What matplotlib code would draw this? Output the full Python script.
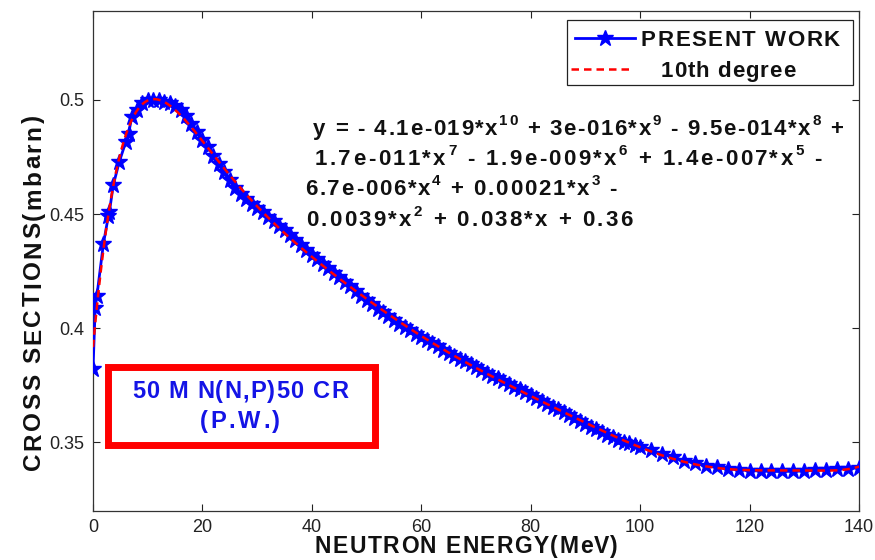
import numpy as np
import matplotlib
matplotlib.use("Agg")
import matplotlib.pyplot as plt
from matplotlib.patches import Rectangle
from matplotlib.lines import Line2D
from matplotlib.font_manager import FontProperties, findfont
from matplotlib import ft2font
from matplotlib.transforms import IdentityTransform

plt.rcParams['font.family'] = ['Liberation Sans', 'DejaVu Sans']

# ---- data: present work (neutron energy in MeV, cross section in mbarn) ----
energy_early = [0.0, 0.4, 0.7, 1.9, 2.8, 3.0, 3.7, 4.8, 6.0, 6.5, 7.1]
xs_early = [0.382, 0.409, 0.414, 0.437, 0.449, 0.451, 0.4627, 0.4729, 0.4817, 0.4853, 0.4927]

energy_mid = list(range(8, 101))
xs_mid = [0.4955, 0.4985, 0.4998, 0.5000, 0.4998, 0.4993, 0.4985, 0.4975, 0.4955,
          0.4928, 0.4895, 0.4860, 0.4826, 0.4792, 0.4756, 0.4720, 0.4684, 0.4650,
          0.4615, 0.4586, 0.4565, 0.4545, 0.4526, 0.4507, 0.4488, 0.4470, 0.4449,
          0.4428, 0.4407, 0.4385, 0.4363, 0.4342, 0.4322, 0.4302, 0.4282, 0.4262,
          0.4243, 0.4224, 0.4204, 0.4184, 0.4164, 0.4143, 0.4122, 0.4104, 0.4086,
          0.4069, 0.4052, 0.4036, 0.4020, 0.4005, 0.3990, 0.3976, 0.3962, 0.3948,
          0.3934, 0.3920, 0.3906, 0.3893, 0.3880, 0.3867, 0.3854, 0.3841, 0.3829,
          0.3817, 0.3804, 0.3792, 0.3780, 0.3768, 0.3756, 0.3744, 0.3732, 0.3720,
          0.3707, 0.3694, 0.3681, 0.3668, 0.3656, 0.3644, 0.3632, 0.3620, 0.3607,
          0.3594, 0.3582, 0.3569, 0.3557, 0.3545, 0.3533, 0.3522, 0.3512, 0.3503,
          0.3495, 0.3488, 0.3481]

energy_late = [102, 104, 106, 108, 110, 112, 114, 116, 118, 120,
               122, 124, 126, 128, 130, 132, 134, 136, 138, 140]
xs_late = [0.3465, 0.3448, 0.3434, 0.3420, 0.3408, 0.3398, 0.3390, 0.3384, 0.3380, 0.3376,
           0.3374, 0.3372, 0.3372, 0.3373, 0.3374, 0.3377, 0.3380, 0.3383, 0.3385, 0.3388]

energy = np.array(energy_early + energy_mid + energy_late, dtype=float)
xsec = np.array(xs_early + xs_mid + xs_late)

fit_degree = 10
series_labels = ["PRESENT WORK", "10th degree"]
# equation lines: list of (text, is_superscript) segments
equation_lines = [
    [("y = - 4.1e-019*x", 0), ("10", 1), (" + 3e-016*x", 0), ("9", 1),
     (" - 9.5e-014*x", 0), ("8", 1), (" +", 0)],
    [("1.7e-011*x", 0), ("7", 1), (" - 1.9e-009*x", 0), ("6", 1),
     (" + 1.4e-007*x", 0), ("5", 1), (" -", 0)],
    [("6.7e-006*x", 0), ("4", 1), (" + 0.00021*x", 0), ("3", 1), (" -", 0)],
    [("0.0039*x", 0), ("2", 1), (" + 0.038*x + 0.36", 0)],
]
box_lines = ["50 M N(N,P)50 CR", "(P.W.)"]
x_label = "NEUTRON ENERGY(MeV)"
y_label = "CROSS SECTIONS(mbarn)"
x_ticks = [0, 20, 40, 60, 80, 100, 120, 140]
y_ticks = [0.35, 0.40, 0.45, 0.50]
y_tick_labels = ["0.35", "0.4", "0.45", "0.5"]

# 10th degree polynomial fit of the present-work data
poly = np.polynomial.Polynomial.fit(energy, xsec, fit_degree)
xfit = np.linspace(energy.min(), energy.max(), 600)
yfit = poly(xfit)

W, H, DPI = 875, 560, 100
fig = plt.figure(figsize=(W / DPI, H / DPI), dpi=DPI)
ax = fig.add_axes([0.1063, 0.088, 0.8754, 0.8924])

BLUE = '#0000ff'
RED = '#ff0000'
ax.plot(energy, xsec, color=BLUE, lw=2.0, marker='*', ms=12,
        mfc=BLUE, mec=BLUE, zorder=3)
ax.plot(xfit, yfit, color=RED, lw=1.8, ls=(0, (3, 2)), zorder=4)

ax.set_xlim(0, 140)
ax.set_ylim(0.32, 0.539)
ax.set_xticks(x_ticks)
ax.set_yticks(y_ticks)
ax.set_yticklabels(y_tick_labels)
ax.tick_params(direction='in', top=True, right=True, length=5, width=0.8,
               labelsize=13, colors='#222222', pad=6)
for s in ax.spines.values():
    s.set_color('#333333')
    s.set_linewidth(0.9)


# ---- helper: letter-spaced text (MATLAB-like wide tracking) ----
def _advance(ch, fp):
    f = ft2font.FT2Font(findfont(fp))
    f.set_size(fp.get_size_in_points(), DPI)
    g = f.load_char(ord(ch))
    return g.linearHoriAdvance / 65536.0


def tracked(segments, x, y, size, target=None, track=0.0, color='#111111',
            weight='bold', vertical=False, sup_scale=0.68, sup_rise=0.45, zorder=10):
    """x, y in image pixels (origin top-left); y is the baseline (or for vertical
    text, x is baseline and y is the start point, reading upward)."""
    fp = FontProperties(family='Liberation Sans', weight=weight, size=size)
    fs = FontProperties(family='Liberation Sans', weight=weight, size=size * sup_scale)
    items = []
    for text, sup in segments:
        f = fs if sup else fp
        for ch in text:
            items.append((ch, f, _advance(ch, f), sup))
    natural = sum(it[2] for it in items)
    n = len(items)
    if target is not None and n > 1:
        track = (target - natural) / (n - 1)
    pos = 0.0
    rise_px = sup_rise * size * DPI / 72.0
    for ch, f, w, sup in items:
        if ch != ' ':
            if not vertical:
                fig.text(x + pos, H - y + (rise_px if sup else 0), ch,
                         transform=IdentityTransform(), fontproperties=f,
                         color=color, ha='left', va='baseline', zorder=zorder)
            else:
                fig.text(x, H - y + pos, ch, transform=IdentityTransform(),
                         fontproperties=f, color=color, ha='left', va='baseline',
                         rotation=90, rotation_mode='anchor', zorder=zorder)
        pos += w + track


# axis labels
tracked([(x_label, 0)], 315, 553, 16.5, target=303)
tracked([(y_label, 0)], 40, 470, 17.5, target=355, vertical=True)

# equation text
eq_pos = [(313, 135, 530), (315, 165, 507), (305, 195, 312), (306, 226, 326)]
for segs, (ex, ey, ew) in zip(equation_lines, eq_pos):
    tracked(segs, ex, ey, 16, target=ew)

# legend (drawn in axes-fraction coordinates)
def ax_frac(px, py):
    x0, y0, w, h = 93, 510.7, 766, 499.7
    return (px - x0) / w, (y0 - py) / h

lx0, ly0 = ax_frac(567, 85)
lx1, ly1 = ax_frac(853, 20)
ax.add_patch(Rectangle((lx0, ly0), lx1 - lx0, ly1 - ly0, transform=ax.transAxes,
                       facecolor='white', edgecolor='#222222', lw=0.9, zorder=8,
                       clip_on=False))
a, b = ax_frac(575, 38); c, _ = ax_frac(635, 38)
ax.add_line(Line2D([a, c], [b, b], transform=ax.transAxes, color=BLUE, lw=2.0, zorder=9))
m, _ = ax_frac(605, 38)
ax.add_line(Line2D([m], [b], transform=ax.transAxes, color=BLUE, marker='*', ms=12,
                   mfc=BLUE, mec=BLUE, zorder=9))
a, b = ax_frac(571, 69); c, _ = ax_frac(632, 69)
ax.add_line(Line2D([a, c], [b, b], transform=ax.transAxes, color=RED, lw=1.8,
                   ls=(0, (3, 2)), zorder=9))
tracked([(series_labels[0], 0)], 641, 46, 16, target=199)
tracked([(series_labels[1], 0)], 661, 77, 16, target=134)

# red annotation box
ax.add_patch(Rectangle((2.65, 0.3490), 48.85, 0.0342, fill=False,
                       edgecolor=RED, lw=5, zorder=5))
tracked([(box_lines[0], 0)], 132, 398, 17, target=216, color='#1414e6')
tracked([(box_lines[1], 0)], 200, 428, 17, target=80, color='#1414e6')

fig.savefig('out.png', dpi=DPI)
